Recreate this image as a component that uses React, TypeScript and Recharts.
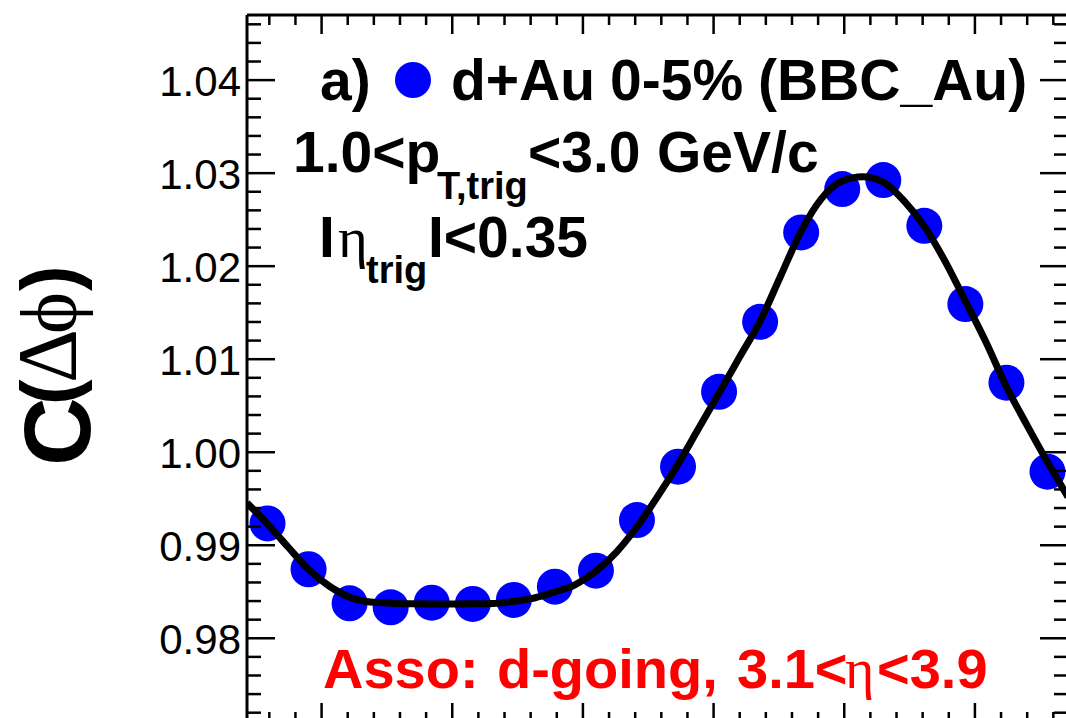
import React from 'react';
import { ComposedChart, XAxis, YAxis, Scatter } from 'recharts';

const PHI_MIN = -Math.PI / 2;
const PHI_MAX = (3 * Math.PI) / 2;
const Y_MIN = 0.971;
const Y_MAX = 1.047;

// bin centres (rad) and measured correlation
const binPhi = [
    -1.4137, -1.0996, -0.7854, -0.4712, -0.1571, 0.1571, 0.4712, 0.7854, 1.0996, 1.4137,
    1.7279, 2.042, 2.3562, 2.6704, 2.9845, 3.2987, 3.6128, 3.927, 4.2412, 4.5553,
];
const binC = [
    0.99235, 0.98742, 0.98376, 0.98333, 0.98383, 0.98369, 0.98412, 0.98555, 0.98727, 0.99271,
    0.99844, 1.0065, 1.01402, 1.02363, 1.02829, 1.02925, 1.02434, 1.01593, 1.00747, 0.99791,
];

// fit curve
const fitPhi = [
    -1.5708, -1.4137, -1.2566, -1.0996, -0.9425, -0.7854, -0.6283, -0.4712, -0.3142, -0.1571,
    0, 0.1571, 0.3142, 0.4712, 0.6283, 0.7854, 0.9425, 1.0996, 1.2566, 1.4137,
    1.5708, 1.7279, 1.885, 2.042, 2.1991, 2.3562, 2.5133, 2.6704, 2.8274, 2.9845,
    3.1416, 3.2987, 3.4558, 3.6128, 3.7699, 3.927, 4.0841, 4.2412, 4.3982, 4.5553, 4.7124,
];
const fitC = [
    0.99454, 0.99228, 0.98981, 0.98739, 0.98562, 0.98442, 0.9839, 0.98377, 0.98371, 0.98369,
    0.98369, 0.98371, 0.98374, 0.98396, 0.98433, 0.98498, 0.98578, 0.9872, 0.98927, 0.99199,
    0.99522, 0.99872, 1.00254, 1.00636, 1.01023, 1.0141, 1.01894, 1.02377, 1.02729, 1.02915,
    1.02961, 1.02904, 1.02704, 1.02428, 1.02057, 1.01625, 1.01184, 1.00704, 1.00292, 0.99895, 0.99519,
];

const yMajorLabels = ['0.98', '0.99', '1.00', '1.01', '1.02', '1.03', '1.04'];

const points = binPhi.map((phi, i) => ({ phi, c: binC[i] }));
const fit = fitPhi.map((phi, i) => ({ phi, c: fitC[i] }));

// minor ticks every 0.2 rad / 0.002, majors every 1 rad / 0.01
const xTicks: number[] = [];
for (let i = -7; i <= 23; i++) xTicks.push(Math.round(i * 2) / 10);
const yTicks: number[] = [];
for (let i = 486; i <= 523; i++) yTicks.push((i * 2) / 1000);

const SANS = "'Liberation Sans', Arial, Helvetica, sans-serif";
const SERIF = "'Liberation Serif', 'DejaVu Serif', 'Times New Roman', serif";

const XTick = ({ x, y, payload, side }: any) => {
    const v = payload.value;
    const major = Math.abs(v - Math.round(v)) < 1e-6;
    const len = major ? 19 : 10;
    const dir = side === 'bottom' ? -1 : 1;
    return <line x1={x} x2={x} y1={y} y2={y + dir * len} stroke="#000" strokeWidth={2.5} />;
};

const YTick = ({ x, y, payload, side }: any) => {
    const v = payload.value;
    const major = Math.abs(v * 100 - Math.round(v * 100)) < 1e-6;
    const len = major ? 28 : 14;
    const dir = side === 'left' ? 1 : -1;
    const label = side === 'left' && major ? yMajorLabels.find((l) => Math.abs(Number(l) - v) < 1e-6) : null;
    return (
        <g>
            <line x1={x} x2={x + dir * len} y1={y} y2={y} stroke="#000" strokeWidth={2.5} />
            {label && (
                <text x={x - 6} y={y + 16} textAnchor="end" fontSize={42} fontFamily={SANS} fill="#000">
                    {label}
                </text>
            )}
        </g>
    );
};

const frame = { stroke: '#000', strokeWidth: 3 };

export default function App() {
    return (
        <div style={{ position: 'absolute', left: 0, top: 0, width: 1066, height: 718, overflow: 'hidden', background: '#fff' }}>
            <ComposedChart width={1071} height={725} margin={{ top: 14, right: 2, bottom: 2, left: 0 }}>
                <XAxis xAxisId="b" type="number" dataKey="phi" orientation="bottom" domain={[PHI_MIN, PHI_MAX]}
                    allowDataOverflow ticks={xTicks} interval={0} height={1} tickSize={0} tickMargin={0}
                    axisLine={frame} tickLine={false} tick={<XTick side="bottom" />} />
                <XAxis xAxisId="t" type="number" dataKey="phi" orientation="top" domain={[PHI_MIN, PHI_MAX]}
                    allowDataOverflow ticks={xTicks} interval={0} height={1} tickSize={0} tickMargin={0}
                    axisLine={frame} tickLine={false} tick={<XTick side="top" />} />
                <YAxis yAxisId="l" type="number" dataKey="c" orientation="left" domain={[Y_MIN, Y_MAX]}
                    allowDataOverflow ticks={yTicks} interval={0} width={247} tickSize={0} tickMargin={0}
                    axisLine={frame} tickLine={false} tick={<YTick side="left" />} />
                <YAxis yAxisId="r" type="number" dataKey="c" orientation="right" domain={[Y_MIN, Y_MAX]}
                    allowDataOverflow ticks={yTicks} interval={0} width={1} tickSize={0} tickMargin={0}
                    axisLine={frame} tickLine={false} tick={<YTick side="right" />} />
                <Scatter xAxisId="b" yAxisId="l" data={points} dataKey="c" isAnimationActive={false}
                    shape={(p: any) => <circle cx={p.cx} cy={p.cy} r={18} fill="#0000ff" />} />
                {/* fit drawn as a joined scatter so it sits above the markers */}
                <Scatter xAxisId="b" yAxisId="l" data={fit} dataKey="c" isAnimationActive={false}
                    line={{ stroke: '#000', strokeWidth: 7, fill: 'none' }} lineJointType="monotoneX"
                    shape={() => <g />} />
            </ComposedChart>
            <svg width={1066} height={718} style={{ position: 'absolute', left: 0, top: 0, pointerEvents: 'none' }}>
                {/* y title C(Δϕ), pieces placed along the rotated baseline */}
                <g transform="rotate(-90)" fill="#000">
                    <text x={-466} y={90} fontFamily={SANS} fontWeight="bold" fontSize={95}>C</text>
                    <text x={-405} y={76} fontFamily={SANS} fontWeight="bold" fontSize={77}>(</text>
                    <text x={-383} y={76} fontFamily={SERIF} fontSize={84}>Δ</text>
                    <text x={-334} y={76} fontFamily={SERIF} fontSize={80}>ϕ</text>
                    <text x={-291} y={76} fontFamily={SANS} fontWeight="bold" fontSize={77}>)</text>
                </g>
                <g fontFamily={SANS} fontWeight="bold" fontSize={57} fill="#000">
                    <text x={320} y={100}>a)</text>
                    <text x={451} y={100}>d+Au</text>
                    <text x={610} y={100}>0-5%</text>
                    <text x={758} y={100}>(BBC_Au)</text>
                    <text x={293} y={172}>1.0&lt;p</text>
                    <text x={437} y={199} fontSize={38}>T,trig</text>
                    <text x={528} y={172}>&lt;3.0</text>
                    <text x={657} y={172}>GeV/c</text>
                    <text x={319} y={257}>I</text>
                    <text x={338} y={257} fontFamily={SERIF} fontWeight="normal">η</text>
                    <text x={366} y={283} fontSize={38}>trig</text>
                    <text x={428} y={257}>I&lt;0.35</text>
                </g>
                <circle cx={413} cy={80} r={18} fill="#0000ff" />
                <g fontFamily={SANS} fontWeight="bold" fontSize={56} fill="#ff0000">
                    <text x={323} y={688}>Asso:</text>
                    <text x={497} y={688}>d-going,</text>
                    <text x={737} y={688}>3.1&lt;</text>
                    <text x={845} y={688} fontFamily={SERIF} fontWeight="normal">η</text>
                    <text x={877} y={688}>&lt;3.9</text>
                </g>
            </svg>
        </div>
    );
}
